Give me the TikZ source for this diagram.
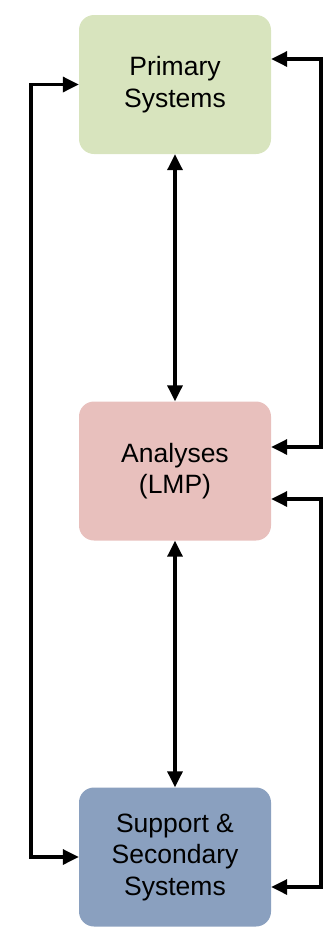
\documentclass[tikz,border=0pt]{standalone}
\usepackage{fontspec}
\setmainfont{Liberation Sans}
\usetikzlibrary{arrows.meta}
\definecolor{primfill}{HTML}{D8E4BE}
\definecolor{anafill}{HTML}{E8C0BD}
\definecolor{suppfill}{HTML}{8AA0BF}
\tikzset{
  sysbox/.style={rounded corners=15pt, minimum width=192pt, minimum height=139pt,
    align=center, font=\fontsize{26.5}{31.5}\selectfont, inner sep=0pt},
  link/.style={line width=3.3pt, {Triangle[length=16pt,width=15pt]}-{Triangle[length=16pt,width=15pt]}}
}
\begin{document}
\begin{tikzpicture}[x=1pt,y=-1pt]
  \useasboundingbox (0,0) rectangle (327,930);
  \node[sysbox, fill=primfill] (prim) at (175,84.5) {Primary\\Systems};
  \node[sysbox, fill=anafill] (ana) at (175,471) {Analyses\\(LMP)};
  \node[sysbox, fill=suppfill] (supp) at (175,857) {Support \&\\Secondary\\Systems};
  \coordinate (lft) at (31,0);
  \coordinate (rgt) at (321,0);
  \draw[link] (prim) -- (ana);
  \draw[link] (ana) -- (supp);
  \draw[link] (prim.west) -- (prim.west -| lft) -- (supp.west -| lft) -- (supp.west);
  \draw[link] ([yshift=25.5pt]prim.east) -- ([yshift=25.5pt]prim.east -| rgt)
    -- ([yshift=24pt]ana.east -| rgt) -- ([yshift=24pt]ana.east);
  \draw[link] ([yshift=-28pt]ana.east) -- ([yshift=-28pt]ana.east -| rgt)
    -- ([yshift=-30pt]supp.east -| rgt) -- ([yshift=-30pt]supp.east);
\end{tikzpicture}
\end{document}
